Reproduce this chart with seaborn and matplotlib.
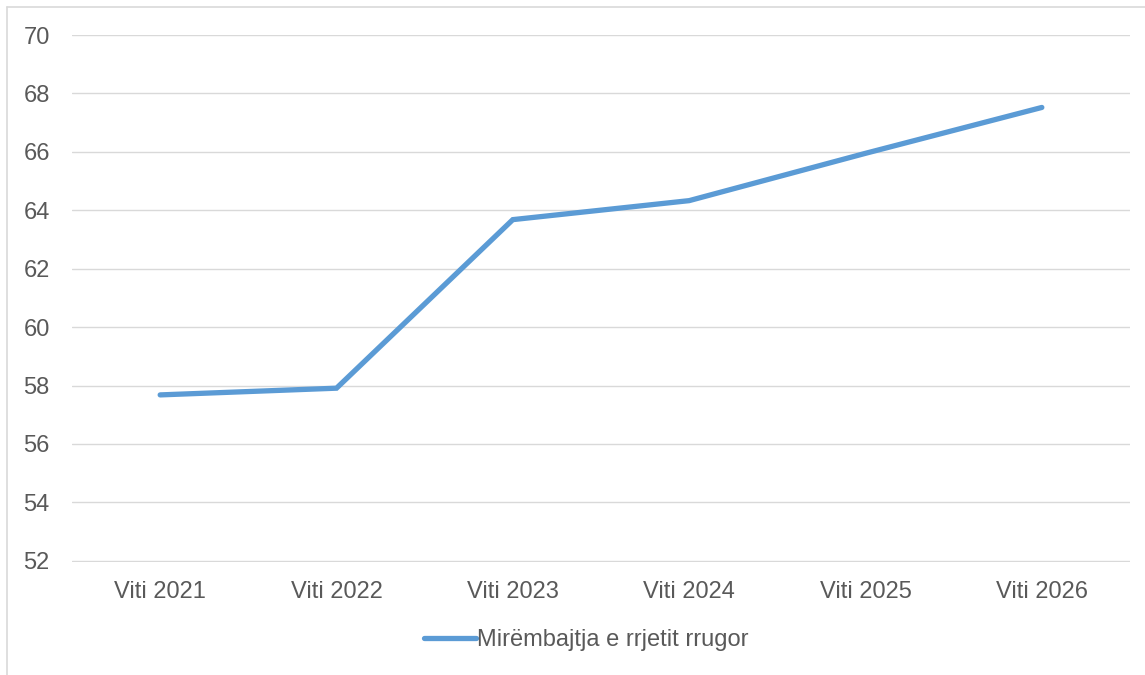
import pandas as pd
import matplotlib.pyplot as plt
import seaborn as sns
from matplotlib.lines import Line2D

# values
years = ["Viti 2021", "Viti 2022", "Viti 2023", "Viti 2024", "Viti 2025", "Viti 2026"]
values = [57.68, 57.91, 63.68, 64.33, 65.95, 67.52]
series_name = "Mirëmbajtja e rrjetit rrugor"
y_ticks = [52, 54, 56, 58, 60, 62, 64, 66, 68, 70]

df = pd.DataFrame({"year": years, "value": values, "series": series_name})

sns.set_style("white")
plt.rcParams['font.family'] = ['Liberation Sans', 'DejaVu Sans']

W, H = 1145, 675
fig = plt.figure(figsize=(W / 100, H / 100), dpi=100)
ax = fig.add_axes([72 / W, 1 - 562 / H, (1130 - 72) / W, (562 - 35) / H])

sns.lineplot(data=df, x="year", y="value", hue="series", palette=["#5B9BD5"],
             linewidth=3.8, ax=ax, sort=False, solid_capstyle="round",
             solid_joinstyle="miter")

ax.set_xlim(-0.5, len(years) - 0.5)
ax.set_ylim(51.96, 70)
ax.set_yticks(y_ticks)
ax.yaxis.grid(True, color="#D9D9D9", linewidth=1.0)
ax.set_axisbelow(True)
for s in ax.spines.values():
    s.set_visible(False)
ax.set_xlabel("")
ax.set_ylabel("")
ax.tick_params(axis="both", length=0, labelsize=17, labelcolor="#595959")
ax.tick_params(axis="y", pad=16)
ax.tick_params(axis="x", pad=14)

handles, labels = ax.get_legend_handles_labels()
ax.get_legend().remove()
fig.legend(handles, labels, loc="center", bbox_to_anchor=(586 / W, 1 - 640 / H),
           frameon=False, fontsize=17, labelcolor="#595959",
           handlelength=2.2, handletextpad=0.05)

# light frame around the chart area
fig.add_artist(Line2D([6.5 / W, 6.5 / W], [0, 1 - 6.5 / H], color="#D9D9D9",
                      linewidth=1.2, transform=fig.transFigure))
fig.add_artist(Line2D([6.5 / W, 1], [1 - 6.5 / H, 1 - 6.5 / H], color="#D9D9D9",
                      linewidth=1.2, transform=fig.transFigure))

fig.savefig("out.png", dpi=100)
